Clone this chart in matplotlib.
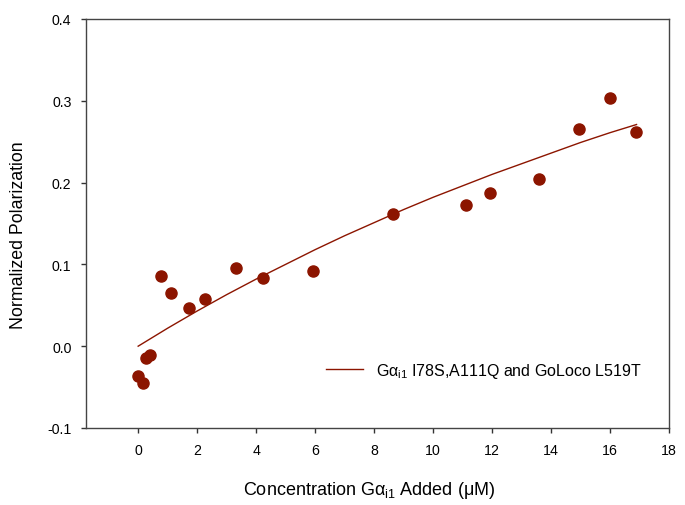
import numpy as np
import matplotlib
matplotlib.use("Agg")
from matplotlib import pyplot as plt

# measured concentrations (uM) and normalized polarization
conc = [0.0, 0.15, 0.26, 0.41, 0.77, 1.13, 1.72, 2.28, 3.31, 4.25,
        5.94, 8.63, 11.12, 11.92, 13.60, 14.94, 16.00, 16.88]
polar = [-0.036, -0.045, -0.015, -0.011, 0.086, 0.065, 0.047, 0.058, 0.096, 0.083,
         0.092, 0.161, 0.172, 0.187, 0.204, 0.265, 0.304, 0.262]

# fitted binding curve
fit_x = [0.0, 1.0, 2.0, 3.0, 4.0, 5.0, 6.0, 7.0, 8.0, 9.0, 10.0,
         11.0, 12.0, 13.0, 14.0, 15.0, 16.0, 16.9]
fit_y = [0.000, 0.022, 0.043, 0.063, 0.082, 0.100, 0.118, 0.135, 0.151, 0.167, 0.182,
         0.196, 0.210, 0.223, 0.236, 0.249, 0.261, 0.271]

x_ticks = list(range(0, 19, 2))
y_ticks = [-0.1, 0.0, 0.1, 0.2, 0.3, 0.4]

plt.rcParams['font.family'] = ['Liberation Sans', 'DejaVu Sans']
plt.rcParams['mathtext.fontset'] = 'custom'
plt.rcParams['mathtext.rm'] = 'Liberation Sans'
plt.rcParams['mathtext.it'] = 'Liberation Sans:italic'

red = '#8c1500'

fig = plt.figure(figsize=(6.85, 5.06), dpi=100)
ax = fig.add_axes([0.1255, 0.1522, 0.8511, 0.8083])

ax.plot(fit_x, fit_y, color=red, lw=1.0,
        label=r'Gα$_{\mathrm{i1}}$ I78S,A111Q and GoLoco L519T')
ax.plot(conc, polar, 'o', color=red, ms=8, mec=red, zorder=3)

ax.set_xlim(-1.77, 18)
ax.set_ylim(-0.1, 0.4)
ax.set_xticks(x_ticks)
ax.set_yticks(y_ticks)
ax.set_yticklabels(['%.1f' % v for v in y_ticks])
ax.tick_params(direction='out', length=3.5, width=1, labelsize=10.2,
               colors='#333333', labelcolor='black', pad=7)
for s in ax.spines.values():
    s.set_color('#444444')
    s.set_linewidth(1.0)

ax.set_xlabel(r'Concentration Gα$_{\mathrm{i1}}$ Added (μM)', fontsize=13)
ax.set_ylabel('Normalized Polarization', fontsize=12.8)
ax.xaxis.set_label_coords(0.485, -0.125)
ax.yaxis.set_label_coords(-0.101, 0.474)

ax.legend(loc='center left', bbox_to_anchor=(0.412, 0.141), frameon=False,
          fontsize=11.5, handlelength=2.3, handletextpad=0.8,
          borderpad=0, borderaxespad=0)

fig.savefig('out.png', dpi=100)
